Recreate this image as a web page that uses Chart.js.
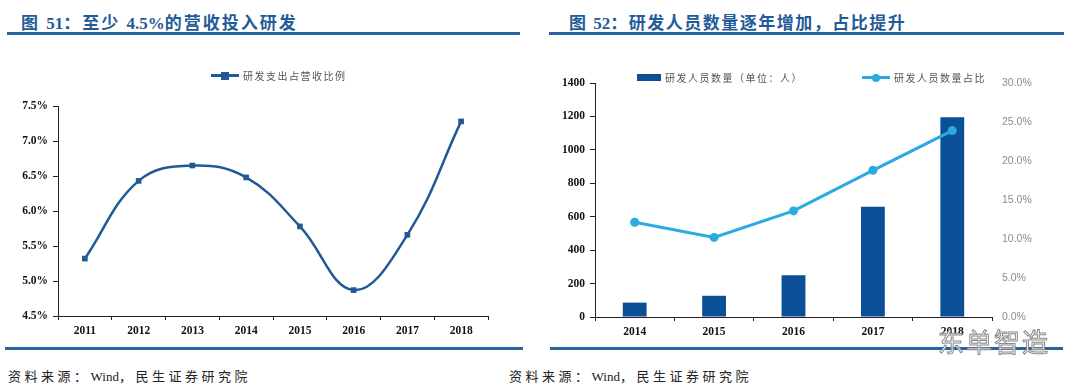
<!DOCTYPE html>
<html>
<head>
<meta charset="utf-8">
<script src="https://cdn.jsdelivr.net/npm/chart.js@4.4.0/dist/chart.umd.min.js"></script>
<style>
  html, body { margin: 0; padding: 0; background: #fff; }
  body { width: 1080px; height: 387px; position: relative; overflow: hidden; }
  .title { position: absolute; top: 9px; font: bold 17px "Liberation Serif", "Noto Sans CJK SC", serif; color: #1f5c99; letter-spacing: 2px; white-space: nowrap; }
  .title b, .src b { letter-spacing: 0; font-weight: inherit; }
  .rule { position: absolute; height: 3px; background: #2563a3; }
  .src { position: absolute; top: 366px; font: 13px "Liberation Serif", "Noto Sans CJK SC", serif; color: #222; letter-spacing: 3.5px; white-space: nowrap; }
  .legend { position: absolute; font: 10px "Noto Sans CJK SC", sans-serif; color: #555; letter-spacing: 1.5px; white-space: nowrap; display: flex; align-items: center; }
  .mk-line { display: inline-block; position: relative; width: 28px; height: 3px; margin-right: 4px; }
  .mk-line i { position: absolute; left: 10px; top: -2.5px; width: 8px; height: 8px; }
  .mk-bar { display: inline-block; width: 24px; height: 7px; background: #0b4f97; margin-right: 4px; }
  canvas { position: absolute; top: 0; }
  .wm { position: absolute; left: 938px; top: 322px; font: 26px "Noto Sans CJK SC", sans-serif; color: rgba(255,255,255,0.85); -webkit-text-stroke: 1px #8a8a8a; letter-spacing: 2px; }
</style>
</head>
<body>
<div class="title" style="left:21px">图 <b>51</b>：至少 <b>4.5%</b>的营收投入研发</div>
<div class="title" style="left:569px; letter-spacing:1.5px">图 <b>52</b>：研发人员数量逐年增加，占比提升</div>
<div class="rule" style="left:7px; width:513px; top:32px"></div>
<div class="rule" style="left:549px; width:515px; top:32px"></div>
<div class="rule" style="left:5px; width:518px; top:347px"></div>
<div class="rule" style="left:550px; width:513px; top:347px"></div>
<div class="src" style="left:8px">资料来源：<b>Wind</b>，民生证券研究院</div>
<div class="src" style="left:509px">资料来源：<b>Wind</b>，民生证券研究院</div>

<canvas id="leftChart" width="540" height="387" style="left:0; width:540px; height:387px"></canvas>
<canvas id="rightChart" width="540" height="387" style="left:540px; width:540px; height:387px"></canvas>

<div class="legend" style="left:211px; top:68px">
  <span class="mk-line" style="background:#1f5a96"><i style="background:#1f5a96"></i></span>研发支出占营收比例
</div>
<div class="legend" style="left:637px; top:70px">
  <span class="mk-bar"></span>研发人员数量（单位：人）
</div>
<div class="legend" style="left:862px; top:70px">
  <span class="mk-line" style="background:#29abe2"><i style="background:#29abe2; border-radius:50%"></i></span>研发人员数量占比
</div>

<div class="wm">东单智造</div>

<script>
// 图51 数据
const yearsLeft = ['2011', '2012', '2013', '2014', '2015', '2016', '2017', '2018'];
const rdRatio = [5.32, 6.43, 6.65, 6.48, 5.78, 4.87, 5.66, 7.28];

// 图52 数据
const yearsRight = ['2014', '2015', '2016', '2017', '2018'];
const rdStaff = [86, 127, 250, 660, 1195];
const rdStaffShare = [12.15, 10.2, 13.6, 18.8, 23.9];

const serifBold = { family: "'Liberation Serif', serif", size: 11.5, weight: 'bold' };

// 折线图：研发支出占营收比例
new Chart(document.getElementById('leftChart'), {
  type: 'line',
  data: {
    labels: yearsLeft,
    datasets: [{
      label: '研发支出占营收比例',
      data: rdRatio,
      borderColor: '#1f5a96',
      backgroundColor: '#1f5a96',
      borderWidth: 2.5,
      tension: 0.4,
      pointStyle: 'rect',
      pointRadius: 4,
      pointBackgroundColor: '#1f5a96',
      pointBorderWidth: 0
    }]
  },
  options: {
    responsive: false,
    animation: false,
    layout: { padding: { left: 0, right: 52, top: 106, bottom: 51 } },
    plugins: { legend: { display: false }, tooltip: { enabled: false } },
    scales: {
      x: {
        offset: true,
        grid: { offset: true, drawOnChartArea: false, drawTicks: true, tickLength: 4, color: '#222' },
        border: { color: '#222', width: 1 },
        ticks: { color: '#111', font: serifBold, padding: 4 },
        afterFit: s => { s.height = 20; }
      },
      y: {
        min: 4.5,
        max: 7.5,
        ticks: { stepSize: 0.5, color: '#111', font: serifBold, padding: 5, callback: v => v.toFixed(1) + '%' },
        grid: { drawOnChartArea: false, drawTicks: true, tickLength: 5, color: '#222' },
        border: { color: '#222', width: 1 },
        afterFit: s => { s.width = 58; }
      }
    }
  }
});

// 柱状图+折线：研发人员数量及占比
new Chart(document.getElementById('rightChart'), {
  type: 'bar',
  data: {
    labels: yearsRight,
    datasets: [{
      type: 'line',
      label: '研发人员数量占比',
      data: rdStaffShare,
      yAxisID: 'y2',
      borderColor: '#29abe2',
      backgroundColor: '#29abe2',
      borderWidth: 3,
      tension: 0,
      pointRadius: 4.5,
      pointBackgroundColor: '#29abe2',
      pointBorderWidth: 0,
      order: 0
    }, {
      label: '研发人员数量（单位：人）',
      data: rdStaff,
      yAxisID: 'y',
      backgroundColor: '#0b4f97',
      barPercentage: 0.3,
      categoryPercentage: 1,
      order: 1
    }]
  },
  options: {
    responsive: false,
    animation: false,
    layout: { padding: { left: 0, right: 0, top: 83, bottom: 50 } },
    plugins: { legend: { display: false }, tooltip: { enabled: false } },
    scales: {
      x: {
        grid: { offset: true, drawOnChartArea: false, drawTicks: true, tickLength: 4, color: '#222' },
        border: { color: '#222', width: 1 },
        ticks: { color: '#111', font: serifBold, padding: 4 },
        afterFit: s => { s.height = 20; }
      },
      y: {
        position: 'left',
        min: 0,
        max: 1400,
        ticks: { stepSize: 200, color: '#111', font: serifBold, padding: 5, callback: v => String(v) },
        grid: { drawOnChartArea: false, drawTicks: true, tickLength: 5, color: '#222' },
        border: { color: '#222', width: 1 },
        afterFit: s => { s.width = 55; }
      },
      y2: {
        position: 'right',
        min: 0,
        max: 30,
        ticks: { stepSize: 5, color: '#8c8c8c', font: { family: "'Liberation Sans', sans-serif", size: 10.5 }, padding: 10, callback: v => v.toFixed(1) + '%' },
        grid: { display: false, drawTicks: false },
        border: { display: false },
        afterFit: s => { s.width = 88; }
      }
    }
  }
});
</script>
</body>
</html>
